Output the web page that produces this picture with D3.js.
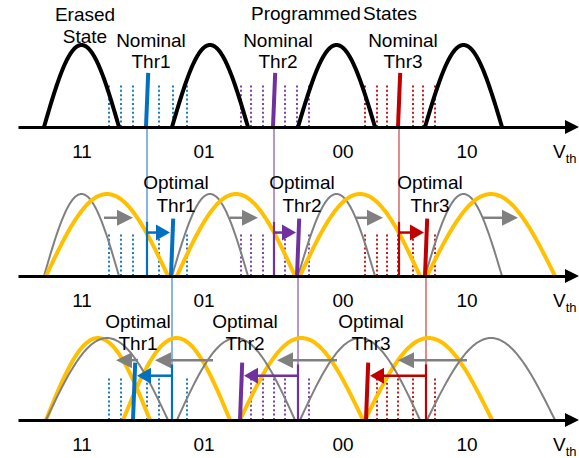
<!DOCTYPE html>
<html><head><meta charset="utf-8">
<script src="https://cdn.jsdelivr.net/npm/d3@7"></script>
<style>body{margin:0;background:#fff}svg{display:block}text{font-family:"Liberation Sans",Arial,sans-serif;fill:#000}</style>
</head><body><svg id="c" width="579" height="458"></svg>
<script>
// ---- data (Vth in arbitrary units) ----
const stateLabels = ["11","01","00","10"];
const stateLabelPos = [6.4, 18.6, 32.5, 44.9];
const nominalStates = [[2.6,10.1],[15.4,23.0],[28.0,35.7],[40.7,48.4]];
const rightShiftedStates = [[2.8,15.0],[15.9,27.7],[28.2,40.2],[40.9,53.7]];
const leftShiftedStates = [[2.8,13.2],[10.5,21.2],[22.2,34.5],[34.7,47.4]];
const readRefs = [[9.1,10.3,11.5,12.9,14.1,15.5,16.9],[22.3,23.3,24.5,25.6,26.7,27.9,29.1],[34.7,35.9,36.9,38.0,39.5,40.5,41.7]];
const nominalThr = [12.9, 25.6, 38.1];
const optimalThrRight = [15.4, 28.0, 40.8];
const optimalThrLeft = [11.6, 22.3, 34.9];
const grayShiftRight = [[8.6,11.5],[21.2,24.0],[33.7,36.5],[46.5,50.0]];
const grayShiftLeft = [[12.0,9.8],[19.5,13.7],[31.9,25.9],[44.9,38.0]];
const thrNames = ["Thr1","Thr2","Thr3"];
const thrColors = ["#0070C0","#7030A0","#C00000"];
const thrLight = ["#85B5E0","#B596D3","#E08C8C"];

const svg = d3.select("#c");
const x = d3.scaleLinear().domain([0,56]).range([18,578]);
const bases = [127, 276, 420];
const ys = bases.map(b => d3.scaleLinear().domain([0,1]).range([b, b-82]));

function hump(seg){
  const [a,b]=seg, c=(a+b)/2, h=(b-a)/2;
  return d3.range(0,61).map(i=>{const v=a+(b-a)*i/60; return [v, Math.cos(Math.PI/2*(v-c)/h)];});
}
function drawCurves(g, states, y, color, width){
  const line = d3.line().x(d=>x(d[0])).y(d=>y(Math.max(0,d[1])));
  g.selectAll(null).data(states).join("path")
    .attr("d", d=>line(hump(d))).attr("fill","none")
    .attr("stroke",color).attr("stroke-width",width).attr("stroke-linejoin","round");
}
function arrow(g, from, to, yv, color, w, hl, hh){
  const dir = Math.sign(to-from);
  const x1=x(from), x2=x(to);
  g.append("line").attr("x1",x1).attr("x2",x2-dir*hl*0.6).attr("y1",yv).attr("y2",yv)
    .attr("stroke",color).attr("stroke-width",w);
  g.append("path").attr("d",`M${x2},${yv}L${x2-dir*hl},${yv-hh}L${x2-dir*hl},${yv+hh}Z`).attr("fill",color);
}
function dotted(g, y, skip){
  readRefs.forEach((arr,k)=>{
    g.selectAll(null).data(arr.filter(v=>!skip.some(s=>Math.abs(s-v)<0.35)))
      .join("line").attr("x1",d=>x(d)).attr("x2",d=>x(d)).attr("y1",y(0)).attr("y2",y(0.52))
      .attr("stroke",thrColors[k]).attr("stroke-width",1.8).attr("stroke-dasharray","2,2.4");
  });
}
function thick(g, v, y, top, color){
  g.append("line").attr("x1",x(v)-1).attr("x2",x(v)+1.2).attr("y1",y(0)).attr("y2",y(top))
    .attr("stroke",color).attr("stroke-width",4);
}
function axis(y, i){
  const ax = d3.scaleLinear().domain([0,55]).range([18,568]);
  const g = svg.append("g").attr("transform",`translate(0,${y(0)})`)
    .call(d3.axisBottom(ax).tickValues([]).tickSizeOuter(0));
  g.select(".domain").attr("stroke","#000").attr("stroke-width",3);
  svg.append("path").attr("d",`M579,${y(0)}L565,${y(0)-7}L565,${y(0)+7}Z`).attr("fill","#000");
  svg.selectAll(null).data(stateLabels).join("text").attr("x",(d,j)=>x(stateLabelPos[j]))
    .attr("y",y(0)+31).attr("text-anchor","middle").attr("font-size",19).text(d=>d);
  const t = svg.append("text").attr("x",553).attr("y",y(0)+31).attr("font-size",19);
  t.append("tspan").text("V");
  t.append("tspan").attr("font-size",13).attr("dy",5).text("th");
}
function label2(xv, y1, y2, a, b){
  svg.append("text").attr("x",x(xv)).attr("y",y1).attr("text-anchor","middle").attr("font-size",19).text(a);
  svg.append("text").attr("x",x(xv)).attr("y",y2).attr("text-anchor","middle").attr("font-size",19).text(b);
}

// light connecting lines
const gl = svg.append("g");
nominalThr.forEach((v,k)=>gl.append("line").attr("x1",x(v)).attr("x2",x(v)).attr("y1",ys[0](0)).attr("y2",ys[1](0.66)).attr("stroke",thrLight[k]).attr("stroke-width",2));
optimalThrRight.forEach((v,k)=>gl.append("line").attr("x1",x(v)).attr("x2",x(v)).attr("y1",ys[1](0)).attr("y2",ys[2](0.68)).attr("stroke",thrLight[k]).attr("stroke-width",2));

// ---- panel 1 ----
{
  const y=ys[0], g=svg.append("g");
  dotted(g, y, nominalThr);
  drawCurves(g, nominalStates, y, "#000", 4);
  nominalThr.forEach((v,k)=>thick(g, v, y, 0.66, thrColors[k]));
  axis(y,0);
  label2(6.7, 21, 43, "Erased", "State");
  svg.append("text").attr("x",x(31.6)).attr("y",20).attr("text-anchor","middle").attr("font-size",19).attr("word-spacing",-3).text("Programmed States");
  nominalThr.forEach((v,k)=>label2(v+0.4, 47, 68, "Nominal", thrNames[k]));
}
// ---- panel 2 ----
{
  const y=ys[1], g=svg.append("g");
  dotted(g, y, optimalThrRight);
  drawCurves(g, nominalStates, y, "#808080", 2);
  drawCurves(g, rightShiftedStates, y, "#FFC000", 4);
  grayShiftRight.forEach(d=>arrow(g, d[0], d[1], y(0.71), "#808080", 2.5, 16, 8));
  nominalThr.forEach((v,k)=>{
    g.append("line").attr("x1",x(v)).attr("x2",x(v)).attr("y1",y(0)).attr("y2",y(0.66)).attr("stroke",thrColors[k]).attr("stroke-width",2.2);
    arrow(g, v, optimalThrRight[k]-0.2, y(0.53), thrColors[k], 2.5, 14, 8);
    thick(g, optimalThrRight[k], y, 0.70, thrColors[k]);
  });
  axis(y,1);
  optimalThrRight.forEach((v,k)=>label2(v+0.4, 189, 212, "Optimal", thrNames[k]));
}
// ---- panel 3 ----
{
  const y=ys[2], g=svg.append("g");
  dotted(g, y, optimalThrLeft.concat(optimalThrRight));
  drawCurves(g, leftShiftedStates, y, "#FFC000", 4);
  drawCurves(g, rightShiftedStates, y, "#808080", 2);
  grayShiftLeft.forEach(d=>arrow(g, d[0], d[1], y(0.73), "#808080", 2.5, 16, 8));
  optimalThrRight.forEach((v,k)=>{
    g.append("line").attr("x1",x(v)).attr("x2",x(v)).attr("y1",y(0)).attr("y2",y(0.68)).attr("stroke",thrColors[k]).attr("stroke-width",2.2);
    arrow(g, v, optimalThrLeft[k]+0.3, y(0.54), thrColors[k], 2.5, 14, 8);
    thick(g, optimalThrLeft[k], y, 0.70, thrColors[k]);
  });
  axis(y,2);
  optimalThrLeft.forEach((v,k)=>label2(v+0.4, 328, 350, "Optimal", thrNames[k]));
}
</script></body></html>
